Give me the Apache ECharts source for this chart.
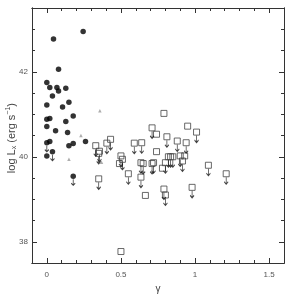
<!DOCTYPE html>
<html><head><meta charset="utf-8">
<script src="https://cdn.jsdelivr.net/npm/echarts@6/dist/echarts.min.js"></script>
<style>html,body{margin:0;padding:0;background:#fff}#c{width:290px;height:302px}</style>
</head><body><div id="c"></div>
<script>
// Filled circles
const agnGamma = [0.245,0.045,0.079,0.0,0.02,0.068,0.079,0.128,0.038,0.0,0.106,0.149,0.0,0.02,0.128,0.178,0.0,0.059,0.14,0.0,0.02,0.149,0.178,0.261,0.0,0.038,0.178];
const agnLogL  = [42.95,42.77,42.06,41.75,41.63,41.63,41.55,41.61,41.43,41.22,41.17,41.28,40.88,40.90,40.83,40.96,40.71,40.61,40.57,40.33,40.36,40.26,40.31,40.36,40.02,40.12,39.54];
const agnUpper = [0,0,0,0,0,0,0,0,0,0,0,0,0,0,0,0,0,0,0,1,0,0,0,0,0,1,1];
// Grey triangles
const triGamma = [0.358,0.23,0.149,0.369];
const triLogL  = [41.08,40.50,39.94,39.87];
// Open squares
const sqGamma = [0.33,0.355,0.35,0.405,0.43,0.35,0.50,0.51,0.49,0.55,0.59,0.64,0.635,0.65,0.635,0.665,0.71,0.74,0.74,0.71,0.72,0.78,0.79,0.81,0.79,0.80,0.80,0.82,0.835,0.85,0.88,0.90,0.915,0.93,0.94,0.95,1.01,0.98,1.09,1.21,0.50];
const sqLogL  = [40.26,40.13,40.08,40.32,40.41,39.48,40.02,39.94,39.84,39.60,40.32,40.33,39.86,39.84,39.52,39.09,40.68,40.53,40.12,39.84,39.86,39.73,41.02,40.47,39.24,39.10,39.86,40.00,40.00,40.00,40.37,40.02,39.90,40.02,40.33,40.72,40.58,39.28,39.80,39.60,37.77];
const sqUpper = [1,1,1,1,1,1,1,1,0,1,1,1,1,1,1,0,1,0,0,1,1,0,0,1,1,1,1,1,1,1,1,1,1,0,1,0,1,1,1,1,0];
// Axis ticks
const xMajorTicks = [0,0.5,1,1.5];
const xMinorTicks = [-0.1,0.1,0.2,0.3,0.4,0.6,0.7,0.8,0.9,1.1,1.2,1.3,1.4,1.6];
const yMajorTicks = [38,40,42];
const yMinorTicks = [37.5,38.5,39,39.5,40.5,41,41.5,42.5,43,43.5];

const circles = agnGamma.map((g,i)=>[g,agnLogL[i]]);
const tris = triGamma.map((g,i)=>[g,triLogL[i]]);
const squares = sqGamma.map((g,i)=>[g,sqLogL[i]]);
const circArrows = circles.filter((p,i)=>agnUpper[i]);
const sqArrows = squares.filter((p,i)=>sqUpper[i]);
const arrowPath = 'path://M5,0 L5,20 M1,13 L5,20 L9,13';
const font = 'Liberation Sans, DejaVu Sans, sans-serif';
const axColor = '#333';

function xAx(pos, ticks, len, labels){
  return {type:'value', position:pos, min:-0.1, max:1.6, gridIndex:0,
    axisLine:{show:true, onZero:false, lineStyle:{color:axColor,width:1}},
    axisTick:{show:true, inside:true, length:len, customValues:ticks, lineStyle:{color:axColor}},
    axisLabel:{show:labels, customValues:ticks, margin:8, fontSize:8, color:'#555', fontFamily:font,
      formatter:v=>String(v)},
    splitLine:{show:false},
    name: labels ? 'γ' : '', nameLocation:'middle', nameGap:21,
    nameTextStyle:{fontSize:10, color:'#444', fontFamily:font}};
}
function yAx(pos, ticks, len, labels){
  return {type:'value', position:pos, min:37.5, max:43.5, gridIndex:0,
    axisLine:{show:true, onZero:false, lineStyle:{color:axColor,width:1}},
    axisTick:{show:true, inside:true, length:len, customValues:ticks, lineStyle:{color:axColor}},
    axisLabel:{show:labels, customValues:ticks, margin:4, fontSize:8, color:'#555', fontFamily:font},
    splitLine:{show:false}};
}

const chart = echarts.init(document.getElementById('c'), null, {renderer:'canvas'});
chart.setOption({
  animation:false,
  backgroundColor:'#fff',
  grid:{left:32, right:6, top:8, bottom:39},
  xAxis:[xAx('bottom',xMajorTicks,5,true), xAx('bottom',xMinorTicks,3,false),
         xAx('top',xMajorTicks,5,false), xAx('top',xMinorTicks,3,false)],
  yAxis:[yAx('left',yMajorTicks,5,true), yAx('left',yMinorTicks,3,false),
         yAx('right',yMajorTicks,5,false), yAx('right',yMinorTicks,3,false)],
  graphic:[{type:'text', left:5, top:103, rotation:Math.PI/2, z:10,
    style:{text:'log L{sub|x} (erg s{sup|−1})', fill:'#444', font:'11px '+font,
      rich:{sub:{fontSize:7, verticalAlign:'bottom', padding:[5,0,0,0], fill:'#444'},
            sup:{fontSize:7, padding:[0,0,6,0], fill:'#444'}}}}],
  series:[
    {type:'scatter', data:squares, symbol:'rect', symbolSize:6, silent:true,
      itemStyle:{color:'rgba(0,0,0,0)', borderColor:'#444', borderWidth:1}},
    {type:'scatter', data:sqArrows, symbol:arrowPath, symbolSize:[4,7], symbolOffset:[0,7], silent:true,
      itemStyle:{color:'rgba(0,0,0,0)', borderColor:'#111', borderWidth:1}},
    {type:'scatter', data:tris, symbol:'triangle', symbolSize:3.5, silent:true,
      itemStyle:{color:'#999'}},
    {type:'scatter', data:circles, symbol:'circle', symbolSize:5.5, silent:true,
      itemStyle:{color:'#000'}},
    {type:'scatter', data:circArrows, symbol:arrowPath, symbolSize:[4,6], symbolOffset:[0,6], silent:true,
      itemStyle:{color:'rgba(0,0,0,0)', borderColor:'#111', borderWidth:1}}
  ]
});
</script></body></html>
